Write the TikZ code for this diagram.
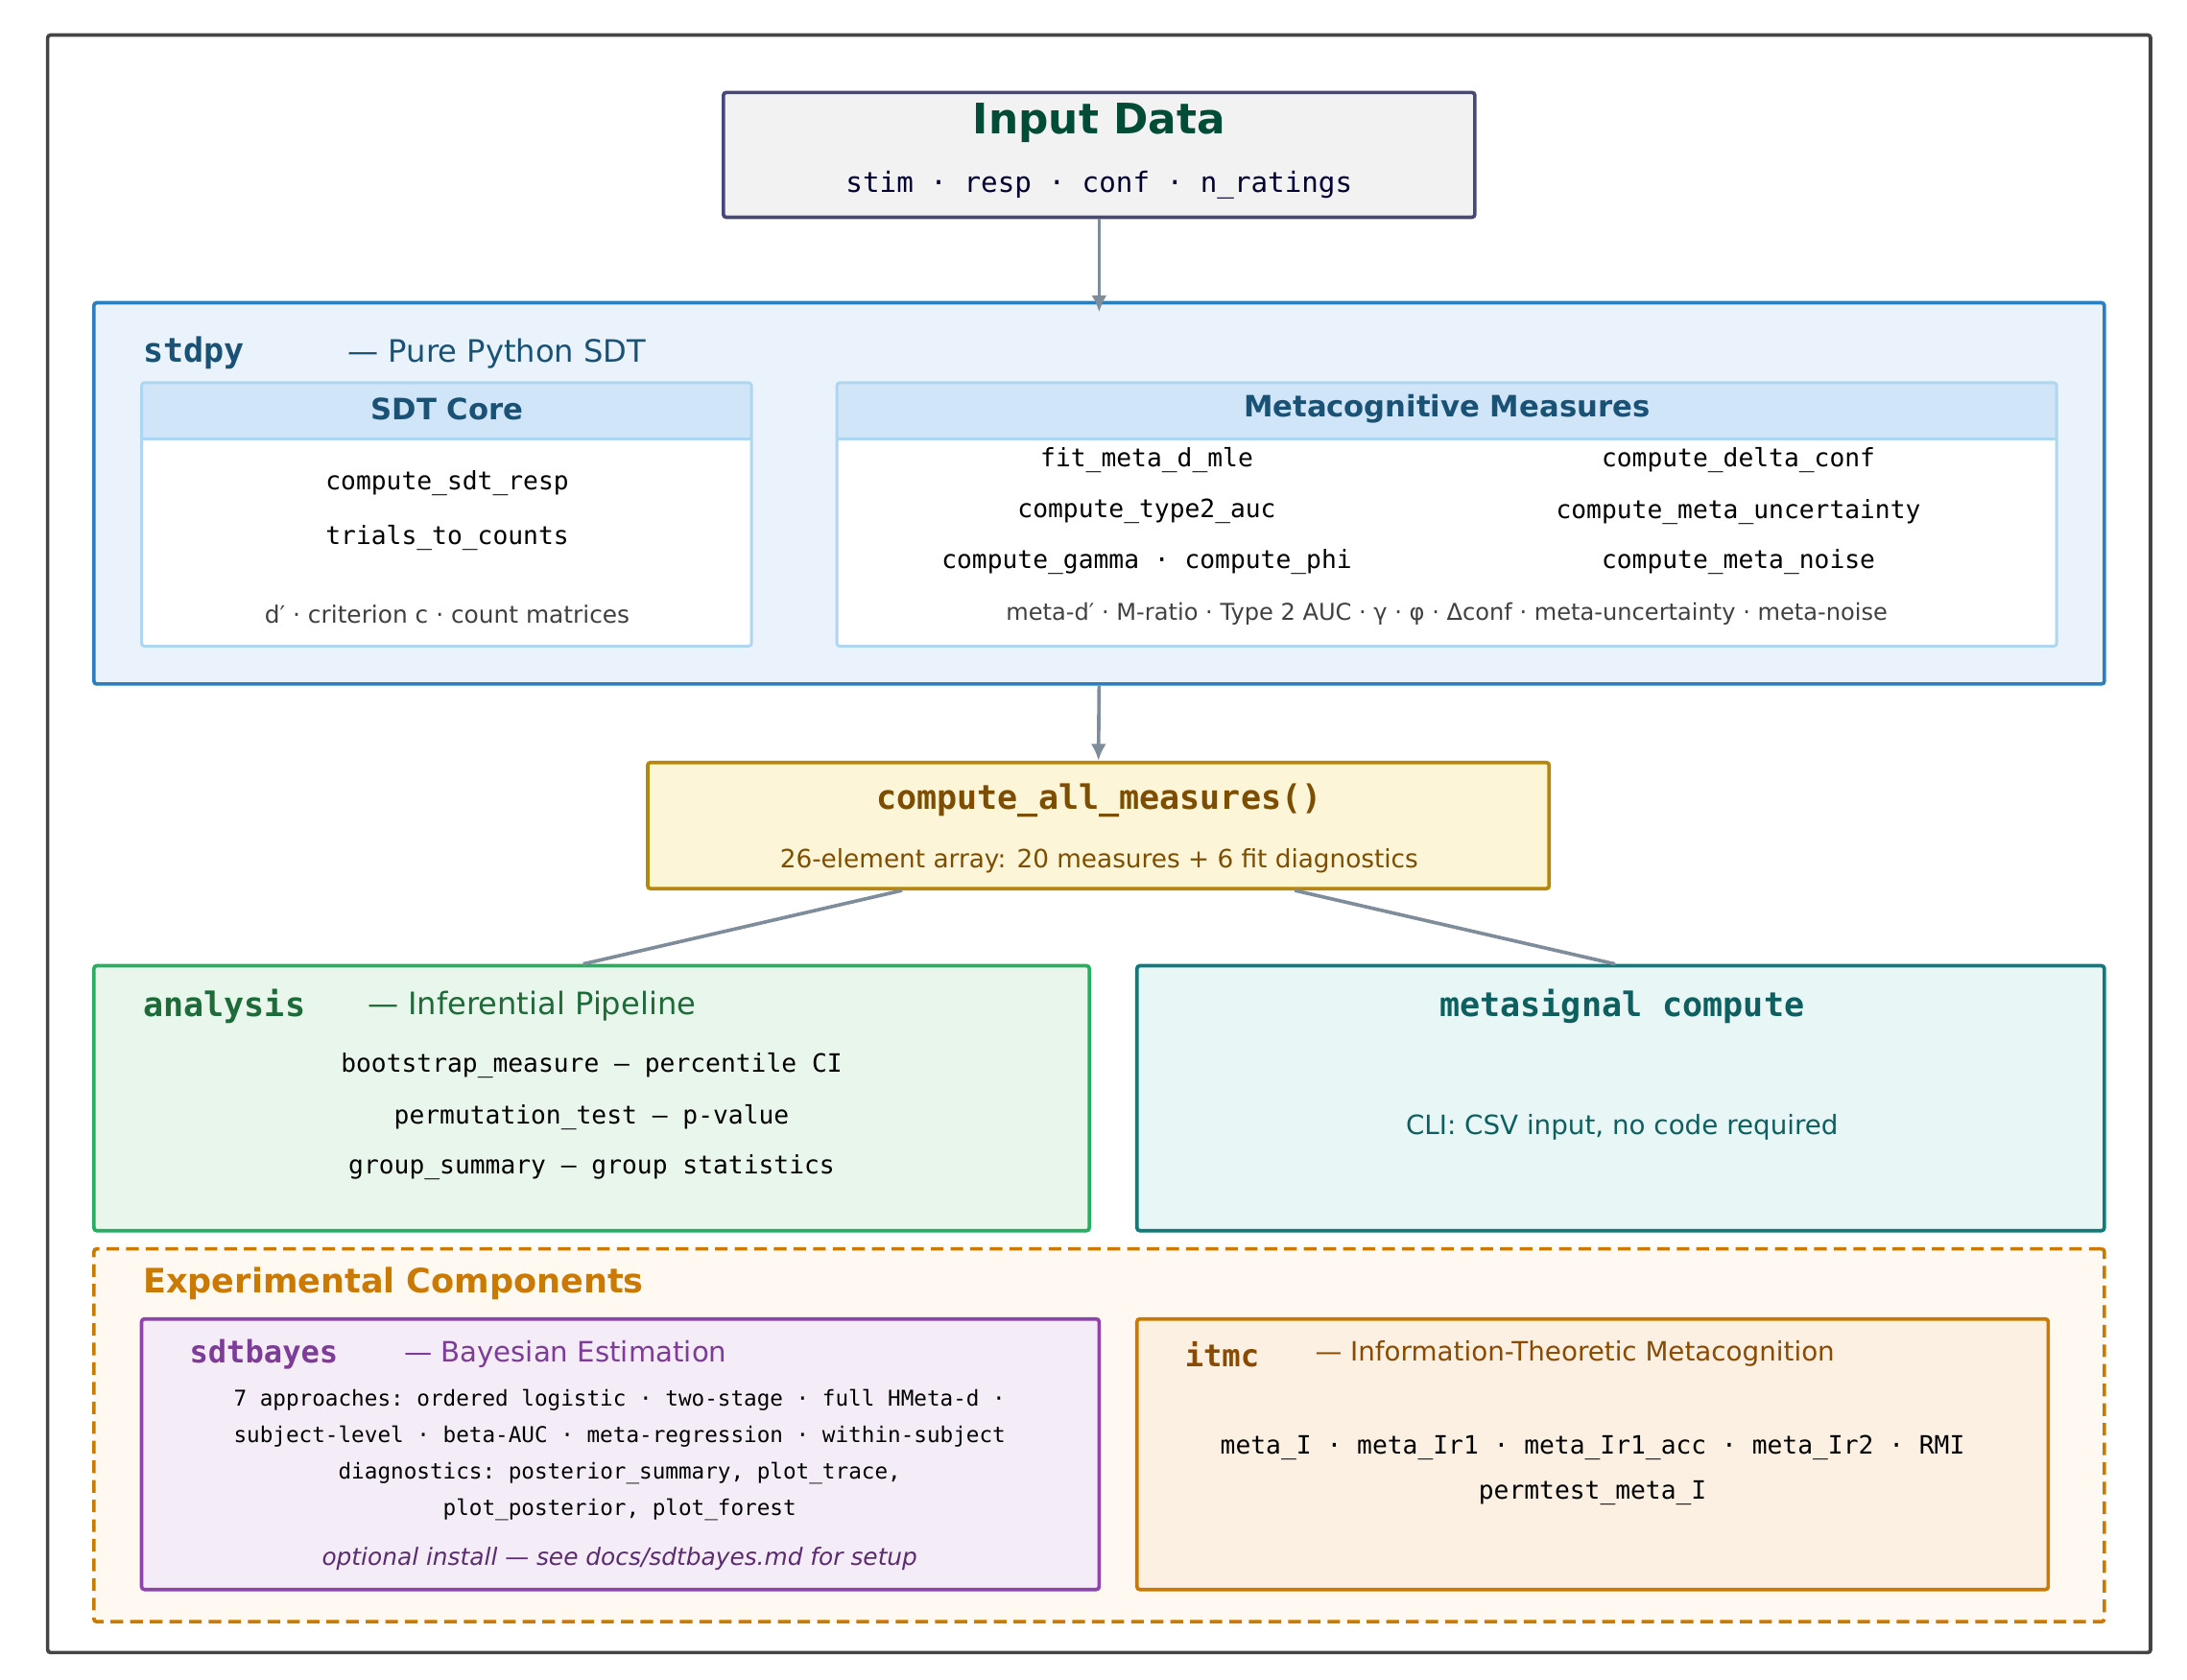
\documentclass[tikz,border=0pt]{standalone}
\usepackage{fontspec}
\usetikzlibrary{arrows.meta}
\setmainfont{DejaVu Sans}
\setmonofont{DejaVu Sans Mono}
\begin{document}
\begin{tikzpicture}[x=1pt,y=-1pt,
 box/.style={draw, line width=2.5pt, rounded corners=2pt, inner sep=0pt},
 sub/.style={draw=#1, line width=2pt, rounded corners=2pt, inner sep=0pt},
 t/.style={inner sep=0pt, anchor=center},
 tl/.style={inner sep=0pt, anchor=west},
 arr/.style={line width=2.5pt, -{Latex[length=12pt,width=11pt]}},
 lnk/.style={line width=2.5pt}]
\definecolor{outer}{HTML}{444444}
\definecolor{conn}{HTML}{7F8C9A}
\tikzset{arr/.append style={draw=conn},lnk/.append style={draw=conn}}
\useasboundingbox (0,0) rectangle (1560,1198);
\node[box, draw=outer, line width=2.5pt, minimum width=1500pt, minimum height=1154pt] (outer) at (784,602) {};
% Input
\node[box, draw=black!30!gray!80!blue, fill=blue!3!gray!10, minimum width=536pt, minimum height=89pt] (in) at (784,110.5) {};
\node[t, font=\bfseries\fontsize{30}{30}\selectfont, text=black!70!blue!70!green] at (784,88) {Input Data};
\node[t, font=\ttfamily\fontsize{20}{20}\selectfont, text=black!80!blue] at (784,132) {stim · resp · conf · n\_ratings};
% stdpy
\definecolor{sb}{HTML}{2A7FC0}\definecolor{sf}{HTML}{EAF2FB}\definecolor{st}{HTML}{1A5276}
\definecolor{hb}{HTML}{AED6F1}\definecolor{hf}{HTML}{D0E5F7}
\node[box, draw=sb, fill=sf, minimum width=1434pt, minimum height=272pt] (sdt) at (784,352) {};
\node[tl, font=\ttfamily\bfseries\fontsize{24}{24}\selectfont, text=st] at (102,252) {stdpy};
\node[tl, font=\fontsize{22}{22}\selectfont, text=st] at (248,252) {— Pure Python SDT};
\fill[white] (101,273) rectangle (536,461);
\fill[hf] (101,273) rectangle (536,313);
\draw[hb, line width=2pt] (101,313) -- (536,313);
\node[sub=hb, minimum width=435pt, minimum height=188pt] (core) at (318.5,367) {};
\node[t, font=\bfseries\fontsize{21}{21}\selectfont, text=st] at (319,292) {SDT Core};
\node[t, font=\ttfamily\fontsize{18}{18}\selectfont] at (319,345) {compute\_sdt\_resp};
\node[t, font=\ttfamily\fontsize{18}{18}\selectfont] at (319,384) {trials\_to\_counts};
\node[t, font=\fontsize{17}{17}\selectfont, text=black!75] at (319,438) {d′ · criterion c · count matrices};
\fill[white] (597,273) rectangle (1467,461);
\fill[hf] (597,273) rectangle (1467,313);
\draw[hb, line width=2pt] (597,313) -- (1467,313);
\node[sub=hb, minimum width=870pt, minimum height=188pt] (meta) at (1032,367) {};
\node[t, font=\bfseries\fontsize{21}{21}\selectfont, text=st] at (1032,292) {Metacognitive Measures};
\foreach \a/\b in {328/fit\_meta\_d\_mle,365/compute\_type2\_auc,401/compute\_gamma · compute\_phi}
  \node[t, font=\ttfamily\fontsize{18}{18}\selectfont] at (818,\a) {\b};
\foreach \a/\b in {328/compute\_delta\_conf,365/compute\_meta\_uncertainty,401/compute\_meta\_noise}
  \node[t, font=\ttfamily\fontsize{18}{18}\selectfont] at (1240,\a) {\b};
\node[t, font=\fontsize{16.5}{17}\selectfont, text=black!75] at (1032,438) {meta-d′ · M-ratio · Type 2 AUC · γ · φ · Δconf · meta-uncertainty · meta-noise};
% compute
\definecolor{cb}{HTML}{B7860B}\definecolor{cf}{HTML}{FDF5D8}\definecolor{ct}{HTML}{7D4E00}
\node[box, draw=cb, fill=cf, minimum width=643pt, minimum height=90pt] (all) at (783.5,589) {};
\node[t, font=\ttfamily\bfseries\fontsize{24}{24}\selectfont, text=ct] at (784,571) {compute\_all\_measures()};
\node[t, font=\fontsize{18}{18}\selectfont, text=ct] at (784,614) {26-element array: 20 measures + 6 fit diagnostics};
% analysis
\definecolor{ab}{HTML}{27AE60}\definecolor{af}{HTML}{E9F6EC}\definecolor{at}{HTML}{1E6B3A}
\node[box, draw=ab, fill=af, minimum width=710pt, minimum height=189pt] (ana) at (422,783.5) {};
\node[tl, font=\ttfamily\bfseries\fontsize{24}{24}\selectfont, text=at] at (102,718) {analysis};
\node[tl, font=\fontsize{22}{22}\selectfont, text=at] at (262,718) {— Inferential Pipeline};
\foreach \a/\b in {760/bootstrap\_measure — percentile CI,797/permutation\_test — p-value,833/group\_summary — group statistics}
  \node[t, font=\ttfamily\fontsize{18}{18}\selectfont] at (422,\a) {\b};
% metasignal
\definecolor{mb}{HTML}{117A7A}\definecolor{mf}{HTML}{E8F6F6}\definecolor{mt}{HTML}{0E6060}
\node[box, draw=mb, fill=mf, minimum width=690pt, minimum height=189pt] (ms) at (1156,783.5) {};
\node[t, font=\ttfamily\bfseries\fontsize{24}{24}\selectfont, text=mt] at (1157,718) {metasignal compute};
\node[t, font=\fontsize{19}{19}\selectfont, text=mt] at (1157,804) {CLI: CSV input, no code required};
% experimental
\definecolor{eb}{HTML}{CA7A00}\definecolor{ef}{HTML}{FFF9F2}
\node[box, draw=eb, fill=ef, dash pattern=on 9pt off 5pt, minimum width=1434pt, minimum height=266pt] (exp) at (784,1024) {};
\node[tl, font=\bfseries\fontsize{24}{24}\selectfont, text=eb] at (102,916) {Experimental Components};
\definecolor{pb}{HTML}{8E44AD}\definecolor{pf}{HTML}{F4ECF7}\definecolor{pt}{HTML}{7D3C98}\definecolor{pi}{HTML}{5B2C6F}
\node[sub=pb, line width=2.5pt, fill=pf, minimum width=683pt, minimum height=193pt] (bay) at (442.5,1037.5) {};
\node[tl, font=\ttfamily\bfseries\fontsize{22}{22}\selectfont, text=pt] at (135,966) {sdtbayes};
\node[tl, font=\fontsize{20}{20}\selectfont, text=pt] at (288,966) {— Bayesian Estimation};
\foreach \a/\b in {999/7 approaches: ordered logistic · two-stage · full HMeta-d ·,1025/subject-level · beta-AUC · meta-regression · within-subject,1051/{diagnostics: posterior\_summary, plot\_trace,},1077/{plot\_posterior, plot\_forest}}
  \node[t, font=\ttfamily\fontsize{15.5}{16}\selectfont] at (442,\a) {\b};
\node[t, font=\itshape\fontsize{17}{17}\selectfont, text=pi] at (442,1112) {optional install — see docs/sdtbayes.md for setup};
\definecolor{of}{HTML}{FCF0E3}\definecolor{ot}{HTML}{8A4B00}
\node[sub=eb, line width=2.5pt, fill=of, minimum width=650pt, minimum height=193pt] (itmc) at (1136,1037.5) {};
\node[tl, font=\ttfamily\bfseries\fontsize{22}{22}\selectfont, text=ot] at (845,966) {itmc};
\node[tl, font=\fontsize{19}{19}\selectfont, text=ot] at (938,966) {— Information-Theoretic Metacognition};
\node[t, font=\ttfamily\fontsize{18}{18}\selectfont] at (1136,1033) {meta\_I · meta\_Ir1 · meta\_Ir1\_acc · meta\_Ir2 · RMI};
\node[t, font=\ttfamily\fontsize{18}{18}\selectfont] at (1136,1065) {permtest\_meta\_I};
% connectors
\draw[arr] (in.south) -- ([yshift=-8pt]sdt.north);
\draw[arr] (sdt.south) -- (all.north);
\draw[lnk] ([xshift=-140pt]all.south) -- ([xshift=-6pt]ana.north);
\draw[lnk] ([xshift=140pt]all.south) -- ([xshift=-4pt]ms.north);
\end{tikzpicture}
\end{document}
